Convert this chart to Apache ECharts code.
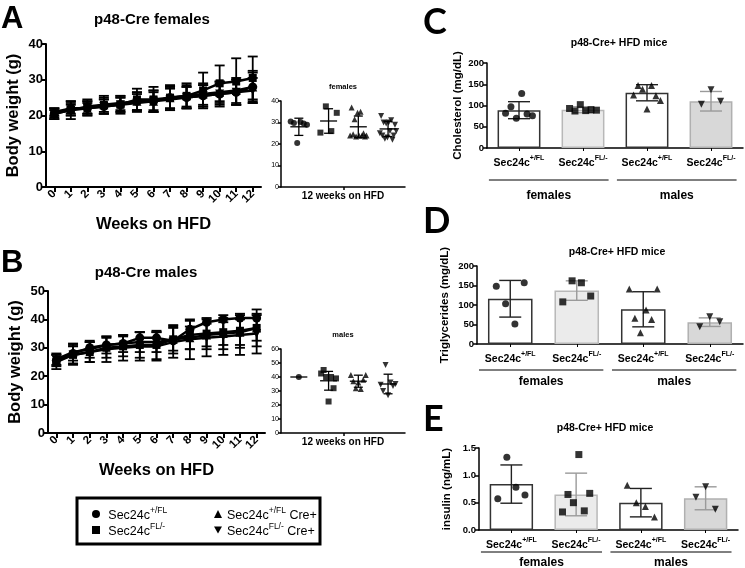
<!DOCTYPE html>
<html><head><meta charset="utf-8">
<script src="https://cdn.jsdelivr.net/npm/echarts@6/dist/echarts.min.js"></script>
<style>html,body{margin:0;padding:0;background:#fff}#c{width:745px;height:568px}</style>
</head><body><div id="c"></div>
<script>
// ---------------- DATA ----------------
const weeks = ['0','1','2','3','4','5','6','7','8','9','10','11','12'];
const genotypes = ['Sec24c+/FL','Sec24cFL/-','Sec24c+/FL Cre+','Sec24cFL/- Cre+'];
const barCategories = ['Sec24c+/FL','Sec24cFL/-','Sec24c+/FL','Sec24cFL/-'];
const sexGroups = ['females','males'];

// Panel A: females body weight (mean, SD) per week
const fMean1 = [20.5,22,22,22.5,23,24,24,25,25,25.5,26,26.5,28];
const fSd1   = [1.5,2,2,2,2,2.5,3,3,3,3,3.5,3.5,4];
const fMean2 = [20.5,21.5,22.5,23,23,24.5,24.5,25,25.5,27,29,29.5,30.5];
const fSd2   = [1.5,2.5,2,2.5,2.5,3,3.5,3.5,3.5,5,5,6.5,6];
const fMean3 = [21,22,22,23,23.5,24,24,25,25.5,26,26.5,27,28];
const fSd3   = [1,1.5,2,2,2,2.5,2.5,3,3,3,3,3.5,4.5];
const fMean4 = [20.5,21.5,22,22.5,23,23.5,24,24.5,25,25.5,26,26.5,27];
const fSd4   = [1,1.5,1.5,2,2,2.5,3,3,3,3,3,3.5,3.5];
// Panel A inset: 12 weeks on HFD
const fWk12Pts1 = [30.5,29.8,20.5,30.2,29.5,29];
const fWk12Pts2 = [25.3,37.5,26,34.5];
const fWk12Pts3 = [24,37,24.5,31.5,23.5,34.5,24,35,24,25,23.5,24];
const fWk12Pts4 = [25,33,24,30,22.5,29.5,23,30,26,31,22,24,29,26];
const fWk12Mean = [28,30.7,28,27];
const fWk12Sd   = [4,5.7,5,3.5];

// Panel B: males body weight
const mMean1 = [25.5,28,30,31,31.5,33.5,33.5,32.5,36.5,39,40,40.5,40.5];
const mSd1   = [0,0,0,0,0,0,0,0,0,0,0,0,0];
const mMean2 = [25,27.5,28.5,30,30.5,31,31,33,34.5,35,35.5,36,37];
const mSd2   = [2.5,3.5,3.5,3.5,3.5,4.5,5,5,5,5.5,6,6,6.5];
const mMean3 = [26,28.5,29.5,31,31.5,32,32,33,33.5,34.5,35,35.5,37];
const mSd3   = [2,3,3,3,3,3.5,3.5,4,4,4,4,4.5,4.5];
const mMean4 = [25.5,27.5,28.5,29.5,30,30.5,30.5,32,33,33.5,34,34.5,35];
const mSd4   = [2,3,3.5,4.5,4.5,5,5,5.5,7,6.5,6.5,7,7];
const mWk12Pts1 = [40];
const mWk12Pts2 = [42.5,45,40,22.5,40,32,39];
const mWk12Pts3 = [41.5,37,32,36,31.5,38,41.5];
const mWk12Pts4 = [34.5,30,48.5,27,36,33.5,35];
const mWk12Mean = [40,37.3,37,35];
const mWk12Sd   = [0,6.7,4.3,7];

// Panel C: cholesterol (mg/dL)
const cholMean = [89,90,130,110];
const cholSd   = [20,7,19,23];
const cholPts1 = [82,97,70,128,80,76];
const cholPts2 = [93,87,102,88,90,89];
const cholPts3 = [125,147,138,92,147,123,112];
const cholPts4 = [103,137,110];
// Panel D: triglycerides (mg/dL)
const trigMean = [116,137,89,56];
const trigSd   = [47,25,45,11];
const trigPts1 = [148,103,51,157];
const trigPts2 = [108,162,157,123];
const trigPts3 = [141,66,29,87,63,141];
const trigPts4 = [44,70,57];
// Panel E: insulin (ng/mL)
const insMean = [0.84,0.65,0.50,0.58];
const insSd   = [0.35,0.39,0.26,0.21];
const insPts1 = [0.57,1.33,0.78,0.64];
const insPts2 = [0.33,0.65,0.5,1.38,0.35,0.67];
const insPts3 = [0.82,0.5,0.43,0.24];
const insPts4 = [0.6,0.79,0.38];

// ---------------- STYLE ----------------
const FONT = '"Liberation Sans", Arial, sans-serif';
const symbols = ['circle','rect','triangle','path://M0,0L10,0L5,9Z'];
const barFill = ['#ffffff','#ebebeb','#ffffff','#d8d8d8'];
const barBorder = ['#333333','#b8b8b8','#333333','#b0b0b0'];
const errColor = ['#222222','#9a9a9a','#222222','#9a9a9a'];

function supRich(name, b, s){
  const m = name.match(/^(Sec24c)(\S+)(.*)$/);
  if(!m) return name;
  let r = '{'+b+'|'+m[1]+'}{'+s+'|'+m[2]+'}';
  if(m[3]) r += '{'+b+'|'+m[3]+'}';
  return r;
}
function spread(n, w){
  if(n === 1) return [0];
  const a = [];
  for(let i=0;i<n;i++) a.push((i/(n-1)-0.5)*w);
  return a;
}
function makeErr(cap, lw, colorFn, meanW){
  return function(params, api){
    const x = api.value(0), m = api.value(1), s = api.value(2);
    const st = {stroke: colorFn(params.dataIndex), lineWidth: lw};
    const ch = [];
    if(meanW){
      const c = api.coord([x,m]);
      ch.push({type:'line', shape:{x1:c[0]-meanW/2,y1:c[1],x2:c[0]+meanW/2,y2:c[1]}, style:st});
    }
    if(s > 0){
      const t = api.coord([x,m+s]), b = api.coord([x,m-s]);
      ch.push({type:'line', shape:{x1:t[0],y1:t[1],x2:b[0],y2:b[1]}, style:st});
      ch.push({type:'line', shape:{x1:t[0]-cap/2,y1:t[1],x2:t[0]+cap/2,y2:t[1]}, style:st});
      ch.push({type:'line', shape:{x1:b[0]-cap/2,y1:b[1],x2:b[0]+cap/2,y2:b[1]}, style:st});
    }
    return {type:'group', children:ch};
  };
}
function groupRender(lineOff, textOff){
  return function(params, api){
    const a = api.coord([api.value(0)-0.47, 0]);
    const b = api.coord([api.value(1)+0.4, 0]);
    return {type:'group', children:[
      {type:'line', shape:{x1:a[0],y1:a[1]+lineOff,x2:b[0],y2:b[1]+lineOff}, style:{stroke:'#000',lineWidth:1}},
      {type:'text', x:(a[0]+b[0])/2, y:a[1]+textOff, style:{text:sexGroups[params.dataIndex], fill:'#000', font:'bold 12px '+FONT, align:'center', verticalAlign:'middle'}}
    ]};
  };
}

// ---------------- AXES ----------------
const grids = [
  {left:46, top:44, width:215, height:143},   // A main
  {left:281, top:101, width:124, height:86},  // A inset
  {left:48, top:291, width:217, height:142},  // B main
  {left:281, top:349, width:124, height:84},  // B inset
  {left:487, top:63, width:256, height:85},   // C
  {left:477, top:266, width:266, height:78},  // D
  {left:479, top:448, width:259, height:82}   // E
];
function mainX(gi, name){
  return {gridIndex:gi, type:'category', data:weeks, boundaryGap:true,
    axisLine:{show:true, onZero:false, lineStyle:{color:'#000', width:2}},
    axisTick:{show:true, alignWithLabel:true, interval:0, length:5, lineStyle:{color:'#000', width:2}},
    axisLabel:{interval:0, rotate:45, margin:5,
      fontFamily:FONT, fontWeight:'bold', fontSize:11.5, color:'#000'},
    splitLine:{show:false},
    name:name, nameLocation:'middle', nameGap:29,
    nameTextStyle:{fontFamily:FONT, fontWeight:'bold', fontSize:16.5, color:'#000'}};
}
function mainY(gi, max){
  return {gridIndex:gi, type:'value', min:0, max:max, interval:10,
    axisLine:{show:true, onZero:false, lineStyle:{color:'#000', width:2}},
    axisTick:{show:true, length:5, lineStyle:{color:'#000', width:2}},
    axisLabel:{margin:3, fontFamily:FONT, fontWeight:'bold', fontSize:13, color:'#000'},
    splitLine:{show:false},
    name:'Body weight (g)', nameLocation:'middle', nameGap:24,
    nameTextStyle:{fontFamily:FONT, fontWeight:'bold', fontSize:16.5, color:'#000'}};
}
function insetX(gi){
  return {gridIndex:gi, type:'value', min:-0.6, max:3.57,
    axisLine:{show:true, onZero:false, lineStyle:{color:'#000', width:1.5}},
    axisTick:{show:true, customValues:[1.5], length:3, lineStyle:{color:'#000', width:1.5}},
    axisLabel:{show:false}, splitLine:{show:false},
    name:'12 weeks on HFD', nameLocation:'middle', nameGap:4,
    nameTextStyle:{fontFamily:FONT, fontWeight:'bold', fontSize:10, color:'#000', verticalAlign:'top'}};
}
function insetY(gi, max){
  return {gridIndex:gi, type:'value', min:0, max:max, interval:10,
    axisLine:{show:true, onZero:false, lineStyle:{color:'#000', width:1.5}},
    axisTick:{show:true, length:3, lineStyle:{color:'#000', width:1.5}},
    axisLabel:{margin:2, fontFamily:FONT, fontSize:7, color:'#000'},
    splitLine:{show:false}};
}
function barX(gi){
  return {gridIndex:gi, type:'category', data:barCategories,
    axisLine:{show:true, onZero:false, lineStyle:{color:'#000', width:1.5}},
    axisTick:{show:true, alignWithLabel:true, length:3, lineStyle:{color:'#000', width:1}},
    axisLabel:{interval:0, margin:7, formatter:v=>supRich(v,'b','s'),
      rich:{b:{fontFamily:FONT, fontWeight:'bold', fontSize:10.5, color:'#000', lineHeight:14, verticalAlign:'bottom'},
            s:{fontFamily:FONT, fontWeight:'bold', fontSize:7, color:'#000', lineHeight:9, verticalAlign:'top'}}},
    splitLine:{show:false}};
}
function hiddenX(gi){
  return {gridIndex:gi, type:'value', min:-0.5, max:3.5, show:false, axisLine:{onZero:false}};
}
function barY(gi, max, interval, name, gap, fmt){
  return {gridIndex:gi, type:'value', min:0, max:max, interval:interval,
    axisLine:{show:true, onZero:false, lineStyle:{color:'#000', width:1.5}},
    axisTick:{show:true, length:4, lineStyle:{color:'#000', width:1.5}},
    axisLabel:{margin:3, fontFamily:FONT, fontWeight:'bold', fontSize:9.5, color:'#000', formatter:fmt},
    splitLine:{show:false},
    name:name, nameLocation:'middle', nameGap:gap,
    nameTextStyle:{fontFamily:FONT, fontWeight:'bold', fontSize:11.5, color:'#000'}};
}

const xAxis = [
  mainX(0,'Weeks on HFD'), insetX(1), mainX(2,'Weeks on HFD'), insetX(3),
  barX(4), hiddenX(4), barX(5), hiddenX(5), barX(6), hiddenX(6)
];
const yAxis = [
  mainY(0,40), insetY(1,40), mainY(2,50), insetY(3,60),
  barY(4,200,50,'Cholesterol (mg/dL)',19),
  barY(5,200,50,'Triglycerides (mg/dL)',26),
  barY(6,1.5,0.5,'insulin (ng/mL)',26, v=>v.toFixed(1))
];

// ---------------- SERIES ----------------
const series = [];
function addLinePanel(xi, yi, means, sds){
  means.forEach((m,g)=>{
    series.push({type:'custom', xAxisIndex:xi, yAxisIndex:yi, z:2, silent:true,
      renderItem:makeErr(10,1.8,()=>'#000',0), data:weeks.map((w,i)=>[i,m[i],sds[g][i]])});
  });
  means.forEach((m,g)=>{
    series.push({type:'line', name:genotypes[g], xAxisIndex:xi, yAxisIndex:yi, z:3, silent:true,
      symbol:symbols[g], symbolSize:g===1?8:9, data:m.slice(),
      lineStyle:{color:'#000', width:2.5}, itemStyle:{color:'#000'}});
  });
}
function addDotPanel(xi, yi, pts, means, sds, w){
  pts.forEach((p,g)=>{
    const off = spread(p.length, w);
    series.push({type:'scatter', xAxisIndex:xi, yAxisIndex:yi, z:3, silent:true,
      symbol:symbols[g], symbolSize:6, itemStyle:{color:'#000'},
      data:p.map((v,i)=>[g+off[i], v])});
  });
  series.push({type:'custom', xAxisIndex:xi, yAxisIndex:yi, z:4, silent:true,
    renderItem:makeErr(9,1.3,()=>'#000',17), data:means.map((m,g)=>[g,m,sds[g]])});
}
function addBarPanel(xc, xv, yi, means, sds, pts, lineOff, textOff){
  series.push({type:'bar', xAxisIndex:xc, yAxisIndex:yi, barWidth:'67%', z:1, silent:true,
    data:means.map((m,g)=>({value:m, itemStyle:{color:barFill[g], borderColor:barBorder[g], borderWidth:1.5}}))});
  series.push({type:'custom', xAxisIndex:xv, yAxisIndex:yi, z:3, silent:true,
    renderItem:makeErr(22,1.4,(i)=>errColor[i],0), data:means.map((m,g)=>[g,m,sds[g]])});
  pts.forEach((p,g)=>{
    const off = spread(p.length, p.length>3?0.42:0.3);
    series.push({type:'scatter', xAxisIndex:xv, yAxisIndex:yi, z:4, silent:true,
      symbol:symbols[g], symbolSize:7, itemStyle:{color:'#000'},
      data:p.map((v,i)=>[g+off[i], v])});
  });
  series.push({type:'custom', xAxisIndex:xv, yAxisIndex:yi, z:4, silent:true,
    renderItem:groupRender(lineOff, textOff), data:[[0,1],[2,3]]});
}

addLinePanel(0,0,[fMean1,fMean2,fMean3,fMean4],[fSd1,fSd2,fSd3,fSd4]);
addDotPanel(1,1,[fWk12Pts1,fWk12Pts2,fWk12Pts3,fWk12Pts4],fWk12Mean,fWk12Sd,0.55);
addLinePanel(2,2,[mMean1,mMean2,mMean3,mMean4],[mSd1,mSd2,mSd3,mSd4]);
addDotPanel(3,3,[mWk12Pts1,mWk12Pts2,mWk12Pts3,mWk12Pts4],mWk12Mean,mWk12Sd,0.5);
addBarPanel(4,5,4,cholMean,cholSd,[cholPts1,cholPts2,cholPts3,cholPts4],32,48);
addBarPanel(6,7,5,trigMean,trigSd,[trigPts1,trigPts2,trigPts3,trigPts4],26,38);
addBarPanel(8,9,6,insMean,insSd,[insPts1,insPts2,insPts3,insPts4],22,33);

// ---------------- TEXT / LEGEND ----------------
function txt(x,y,text,font,align){
  return {type:'text', x:x, y:y, silent:true,
    style:{text:text, font:font, fill:'#000', align:align||'center', verticalAlign:'middle'}};
}
const graphic = [
  txt(1,19,'A','bold 31px '+FONT,'left'),
  txt(1,263,'B','bold 31px '+FONT,'left'),
  txt(423,22,'C','bold 36px Lato, '+FONT,'left'),
  txt(423,221,'D','bold 36px Lato, '+FONT,'left'),
  txt(423,419,'E','bold 36px Lato, '+FONT,'left'),
  txt(152,20,'p48-Cre females','bold 15px '+FONT),
  txt(146,273,'p48-Cre males','bold 15px '+FONT),
  txt(343,87,'females','bold 7.5px '+FONT),
  txt(343,335,'males','bold 7.5px '+FONT),
  txt(619,43,'p48-Cre+ HFD mice','bold 10.5px '+FONT),
  txt(617,252,'p48-Cre+ HFD mice','bold 10.5px '+FONT),
  txt(605,428,'p48-Cre+ HFD mice','bold 10.5px '+FONT),
  {type:'rect', silent:true, shape:{x:77,y:498,width:243,height:46}, style:{fill:'#fff', stroke:'#000', lineWidth:3}, z:0}
];
const legRich = {
  b:{fontFamily:FONT, fontSize:12.5, color:'#000', lineHeight:16, verticalAlign:'bottom'},
  s:{fontFamily:FONT, fontSize:8.5, color:'#000', lineHeight:11, verticalAlign:'top'}
};
const legend = [
  {left:92, top:506, padding:0, orient:'vertical', itemGap:0, itemWidth:8, itemHeight:8, selectedMode:false,
   data:[{name:genotypes[0], icon:symbols[0]},{name:genotypes[1], icon:symbols[1]}],
   formatter:n=>' '+supRich(n,'b','s'), textStyle:{rich:legRich}},
  {left:214, top:506, padding:0, orient:'vertical', itemGap:0, itemWidth:8, itemHeight:8, selectedMode:false,
   data:[{name:genotypes[2], icon:symbols[2]},{name:genotypes[3], icon:symbols[3]}],
   formatter:n=>supRich(n,'b','s'), textStyle:{rich:legRich}}
];

const chart = echarts.init(document.getElementById('c'), null, {renderer:'canvas'});
chart.setOption({
  animation:false, backgroundColor:'#fff',
  grid:grids, xAxis:xAxis, yAxis:yAxis, series:series, graphic:graphic, legend:legend
});
</script></body></html>
